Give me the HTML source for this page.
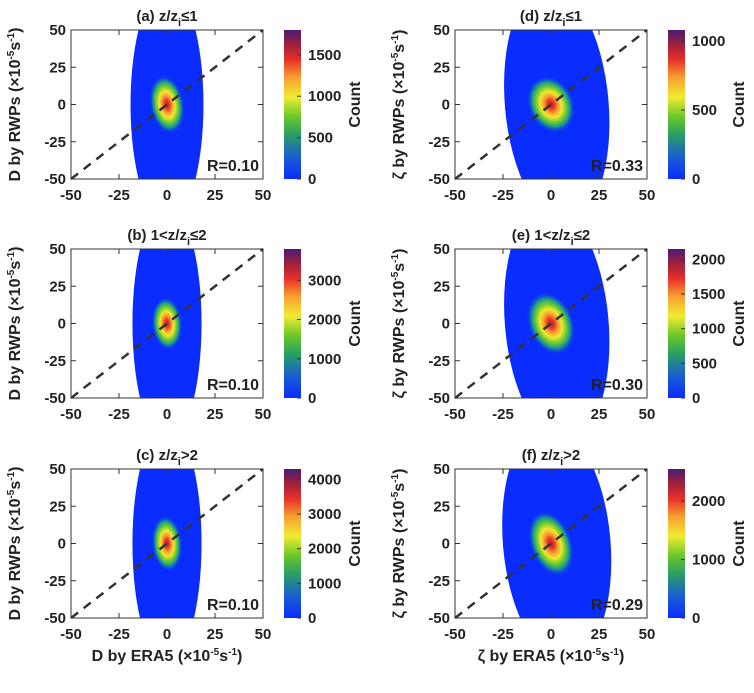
<!DOCTYPE html>
<html><head><meta charset="utf-8"><style>
body{margin:0;background:#fff}
svg text{font-family:"Liberation Sans",sans-serif;font-weight:bold;fill:#222}
</style></head><body>
<svg id="fig" width="754" height="688" viewBox="0 0 754 688" xmlns="http://www.w3.org/2000/svg">
<defs>
<linearGradient id="cmap" x1="0" y1="1" x2="0" y2="0">
<stop offset="0" stop-color="#0a2cff"/><stop offset="0.15" stop-color="#1a5fd0"/><stop offset="0.3" stop-color="#2aa060"/><stop offset="0.42" stop-color="#6cc82a"/><stop offset="0.55" stop-color="#f0ec30"/><stop offset="0.68" stop-color="#f7a030"/><stop offset="0.8" stop-color="#e8302a"/><stop offset="0.9" stop-color="#a0203a"/><stop offset="1" stop-color="#4a1a78"/>
</linearGradient>
<radialGradient id="core">
<stop offset="0" stop-color="#b01a30"/><stop offset="0.15" stop-color="#e83a28"/><stop offset="0.3" stop-color="#f7a030"/><stop offset="0.45" stop-color="#f0e830"/><stop offset="0.6" stop-color="#7cd02a"/><stop offset="0.78" stop-color="#1a9a8a"/><stop offset="1" stop-color="#0a2cff" stop-opacity="0"/>
</radialGradient>
</defs>
</svg>
<script>
const panelTitles=["(a) z/z","(b) 1&lt;z/z","(c) z/z","(d) z/z","(e) 1&lt;z/z","(f) z/z"];
const titleSuffix=["≤1","≤2","&gt;2","≤1","≤2","&gt;2"];
const rValues=["R=0.10","R=0.10","R=0.10","R=0.33","R=0.30","R=0.29"];
const cbarMax=[1800,3800,4300,1080,2150,2550];
const cbarTicks=[[0,500,1000,1500],[0,1000,2000,3000],[0,1000,2000,3000,4000],[0,500,1000],[0,500,1000,1500,2000],[0,1000,2000]];
const blueHalfWidth=[19,18,18,27,27,28];
const blueCenterX=[0,0,0,3,3,3];
const coreHalfWidth=[9,8,8,12,12,11];
const coreHalfHeight=[20,18,19,20,22,23];
const coreTilt=[-10,-5,-5,-25,-22,-20];
const axisTicks=[-50,-25,0,25,50];
const rowTop=[30,249,469], H=149;
const colLeft=[71,455], W=192, cbX=[284,668];
const svg=document.getElementById('fig');
const NS="http://www.w3.org/2000/svg";
function el(t,a,txt){const e=document.createElementNS(NS,t);for(const k in a)e.setAttribute(k,a[k]);if(txt!==undefined)e.textContent=txt;svg.appendChild(e);return e;}
for(let p=0;p<6;p++){
 const c=p<3?0:1,r=p%3;const L=colLeft[c],T=rowTop[r];
 const sx=v=>L+(v+50)/100*W, sy=v=>T+H-(v+50)/100*H;
 const cp=el('clipPath',{id:'cp'+p});const rr=document.createElementNS(NS,'rect');
 rr.setAttribute('x',L);rr.setAttribute('y',T);rr.setAttribute('width',W);rr.setAttribute('height',H);cp.appendChild(rr);
 const g=el('g',{'clip-path':'url(#cp'+p+')'});
 
 const b=document.createElementNS(NS,'ellipse');
 b.setAttribute('cx',sx(blueCenterX[p]));b.setAttribute('cy',sy(0));b.setAttribute('rx',blueHalfWidth[p]/100*W);b.setAttribute('ry',80/100*H);b.setAttribute('fill','#0a2cff');
 b.setAttribute('transform','rotate('+(c?-5:0)+' '+sx(0)+' '+sy(0)+')');
 g.appendChild(b);
 const k=document.createElementNS(NS,'ellipse');
 k.setAttribute('cx',sx(0));k.setAttribute('cy',sy(0));k.setAttribute('rx',coreHalfWidth[p]/100*W);k.setAttribute('ry',coreHalfHeight[p]/100*H);k.setAttribute('fill','url(#core)');
 k.setAttribute('transform','rotate('+coreTilt[p]+' '+sx(0)+' '+sy(0)+')');
 g.appendChild(k);
 const d=el('line',{x1:sx(-50),y1:sy(-50),x2:sx(50),y2:sy(50),stroke:'#333','stroke-width':2.5,'stroke-dasharray':'9,7'});
 
 const f=el('rect',{x:L,y:T,width:W,height:H,fill:'none',stroke:'#333','stroke-width':1});
 
 axisTicks.forEach(v=>{
  el('line',{x1:sx(v),x2:sx(v),y1:T+H,y2:T+H-5,stroke:'#333'});el('line',{x1:sx(v),x2:sx(v),y1:T,y2:T+5,stroke:'#333'});
  el('line',{x1:L,x2:L+5,y1:sy(v),y2:sy(v),stroke:'#333'});el('line',{x1:L+W,x2:L+W-5,y1:sy(v),y2:sy(v),stroke:'#333'});
  const yl=el('text',{x:L-5,y:sy(v)+5,'text-anchor':'end','font-size':15},String(v));
  
  const xl=el('text',{x:sx(v),y:T+H+21,'text-anchor':'middle','font-size':15},String(v));
  
 });
 const t=el('text',{x:L+W/2,y:T-9,'text-anchor':'middle','font-size':15});
 t.innerHTML=panelTitles[p]+'<tspan dy="5" font-size="11">i</tspan><tspan dy="-5">'+titleSuffix[p]+'</tspan>';
 
 const rt=el('text',{x:L+W-4,y:T+H-8,'text-anchor':'end','font-size':16},rValues[p]);
 
 const cb=el('rect',{x:cbX[c],y:T,width:17,height:H,fill:'url(#cmap)'});
 
 cbarTicks[p].forEach(v=>{const y=T+H-v/cbarMax[p]*H;
  el('line',{x1:cbX[c]+17,x2:cbX[c]+13,y1:y,y2:y,stroke:'#333'});
  const ct=el('text',{x:cbX[c]+24,y:y+5,'font-size':15},String(v));
  });
 const cl=el('text',{x:0,y:0,'font-size':16,'text-anchor':'middle',transform:'translate('+(cbX[c]+76)+','+(T+H/2)+') rotate(-90)'},'Count');
 
 const sym=c?'ζ':'D';
 const yt=el('text',{x:0,y:0,'font-size':16,'text-anchor':'middle',transform:'translate('+(L-51)+','+(T+H/2)+') rotate(-90)'});
 yt.innerHTML=sym+' by RWPs (×10<tspan dy="-6" font-size="10">-5</tspan><tspan dy="6">s</tspan><tspan dy="-6" font-size="10">-1</tspan><tspan dy="6">)</tspan>';
 
 if(r===2){const xt=el('text',{x:L+W/2,y:661,'font-size':16,'text-anchor':'middle'});
  xt.innerHTML=sym+' by ERA5 (×10<tspan dy="-6" font-size="10">-5</tspan><tspan dy="6">s</tspan><tspan dy="-6" font-size="10">-1</tspan><tspan dy="6">)</tspan>';
  }
}
</script>
</body></html>
